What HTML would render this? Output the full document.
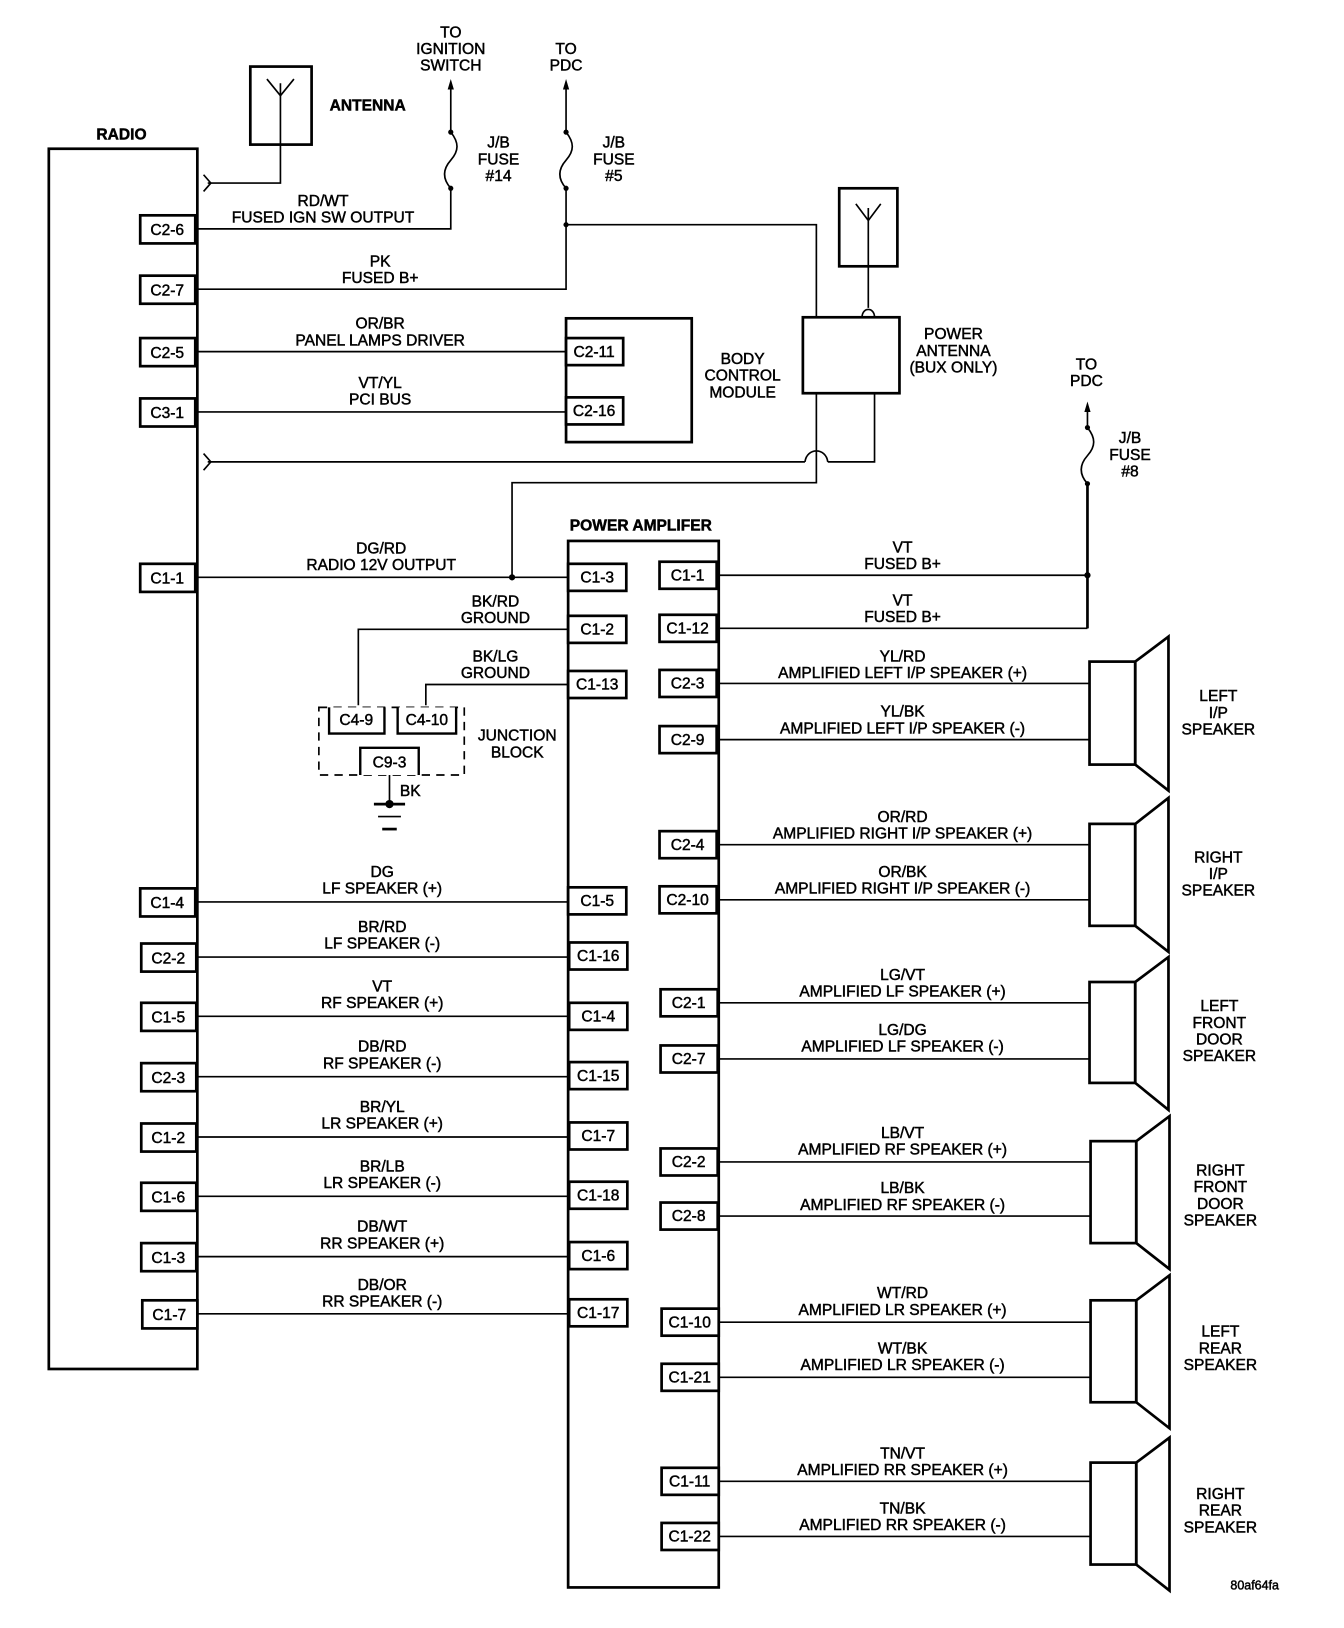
<!DOCTYPE html>
<html><head><meta charset="utf-8"><style>
html,body{margin:0;padding:0;background:#fff;}
svg{display:block;}
text{font-family:"Liberation Sans",Arial,sans-serif;font-size:15px;fill:#000;text-anchor:middle;stroke:#000;stroke-width:0.45;}
.b{font-weight:bold;}
.l{fill:none;stroke:#000;stroke-width:1.6;}
.t{fill:none;stroke:#000;stroke-width:2.6;}
.c{fill:#fff;stroke:#000;stroke-width:2.6;}
</style></head><body>
<svg width="1344" height="1628" viewBox="0 0 1294 1565" preserveAspectRatio="none" xmlns="http://www.w3.org/2000/svg">
<!-- RADIO -->
<text x="117" y="134" class="b">RADIO</text>
<rect x="47" y="143" width="143" height="1173" class="t"/>
<!-- antenna -->
<rect x="241" y="64" width="59" height="75" class="t"/>
<polyline points="257,76 270,92 283,76" class="l"/>
<polyline points="270,80 270,176 200,176" class="l"/>
<polyline points="196,168 203,176 196,184" class="l"/>
<text x="354" y="106" class="b">ANTENNA</text>
<!-- fuse 14 -->
<text x="434" y="36">TO</text><text x="434" y="52">IGNITION</text><text x="434" y="68">SWITCH</text>
<polygon points="434,76 431,86 437,86"/>
<line x1="434" y1="84" x2="434" y2="127" class="l"/>
<path d="M434,127 C442,137 442,145 434,154 C426,163 426,172 434,181" class="l"/>
<circle cx="434" cy="127" r="2.5"/><circle cx="434" cy="181" r="2.5"/>
<polyline points="434,181 434,220 190,220" class="l"/>
<text x="480" y="142">J/B</text><text x="480" y="158">FUSE</text><text x="480" y="174">#14</text>
<text x="311" y="198">RD/WT</text><text x="311" y="214">FUSED IGN SW OUTPUT</text>
<!-- fuse 5 -->
<text x="545" y="52">TO</text><text x="545" y="68">PDC</text>
<polygon points="545,76 542,86 548,86"/>
<line x1="545" y1="84" x2="545" y2="127" class="l"/>
<path d="M545,127 C553,137 553,145 545,154 C537,163 537,172 545,181" class="l"/>
<circle cx="545" cy="127" r="2.5"/><circle cx="545" cy="181" r="2.5"/>
<polyline points="545,181 545,278 190,278" class="l"/>
<circle cx="545" cy="216" r="2.5"/>
<polyline points="545,216 786,216 786,305" class="l"/>
<text x="591" y="142">J/B</text><text x="591" y="158">FUSE</text><text x="591" y="174">#5</text>
<text x="366" y="256">PK</text><text x="366" y="272">FUSED B+</text>
<!-- radio connectors top -->
<g>
<rect x="135" y="207" width="53" height="27" class="c"/><text x="161" y="226">C2-6</text>
<rect x="135" y="265" width="53" height="27" class="c"/><text x="161" y="284">C2-7</text>
<rect x="135" y="325" width="53" height="27" class="c"/><text x="161" y="344">C2-5</text>
<rect x="135" y="383" width="53" height="27" class="c"/><text x="161" y="402">C3-1</text>
<rect x="135" y="542" width="53" height="27" class="c"/><text x="161" y="561">C1-1</text>
</g>
<!-- BCM -->
<rect x="545" y="306" width="121" height="119" class="t"/>
<line x1="190" y1="338" x2="545" y2="338" class="l"/>
<line x1="190" y1="396" x2="545" y2="396" class="l"/>
<rect x="545" y="325" width="55" height="26" class="c"/><text x="572" y="343">C2-11</text>
<rect x="545" y="382" width="55" height="26" class="c"/><text x="572" y="400">C2-16</text>
<text x="366" y="316">OR/BR</text><text x="366" y="332">PANEL LAMPS DRIVER</text>
<text x="366" y="373">VT/YL</text><text x="366" y="389">PCI BUS</text>
<text x="715" y="350">BODY</text><text x="715" y="366">CONTROL</text><text x="715" y="382">MODULE</text>
<!-- power antenna -->
<rect x="808" y="181" width="56" height="75" class="t"/>
<polyline points="824,196 836,212 848,196" class="l"/>
<line x1="836" y1="200" x2="836" y2="296" class="l"/>
<path d="M830,305 C830,295 842,295 842,305" class="l"/>
<rect x="773" y="305" width="93" height="73" class="t"/>
<text x="918" y="326">POWER</text><text x="918" y="342">ANTENNA</text><text x="918" y="358">(BUX ONLY)</text>
<polyline points="842,378 842,444 797,444" class="l"/>
<path d="M797,444 C795,430 777,430 775,444" class="l"/>
<polyline points="775,444 200,444" class="l"/>
<polyline points="196,436 203,444 196,452" class="l"/>
<polyline points="786,378 786,464 493,464 493,555" class="l"/>
<circle cx="493" cy="555" r="3"/>
<line x1="190" y1="555" x2="547" y2="555" class="l"/>
<text x="367" y="532">DG/RD</text><text x="367" y="548">RADIO 12V OUTPUT</text>
<!-- POWER AMP -->
<text x="617" y="510" class="b">POWER AMPLIFER</text>
<rect x="547" y="520" width="145" height="1006" class="t"/>
<!-- ground wires -->
<polyline points="547,605 345,605 345,678" class="l"/>
<polyline points="547,658 410,658 410,678" class="l"/>
<text x="477" y="583">BK/RD</text><text x="477" y="599">GROUND</text>
<text x="477" y="636">BK/LG</text><text x="477" y="652">GROUND</text>
<rect x="307" y="680" width="140" height="65" fill="none" stroke="#000" stroke-width="1.6" stroke-dasharray="8,6"/>
<polyline points="317,680 317,705 370,705 370,680" class="t"/>
<rect x="318" y="680" width="51" height="24" fill="#fff"/><text x="343" y="697">C4-9</text>
<polyline points="383,680 383,705 439,705 439,680" class="t"/>
<rect x="384" y="680" width="54" height="24" fill="#fff"/><text x="411" y="697">C4-10</text>
<polyline points="347,745 347,719 403,719 403,745" class="t"/>
<rect x="348" y="720" width="54" height="25" fill="#fff"/><text x="375" y="738">C9-3</text>
<text x="498" y="712">JUNCTION</text><text x="498" y="728">BLOCK</text>
<line x1="375" y1="745" x2="375" y2="773" class="l"/>
<circle cx="375" cy="773" r="4"/>
<text x="395" y="765">BK</text>
<line x1="360" y1="773" x2="390" y2="773" class="t"/>
<line x1="364" y1="785" x2="386" y2="785" class="l"/>
<line x1="368" y1="797" x2="382" y2="797" class="t"/>
<!-- amp left connectors top -->
<rect x="547" y="542" width="56" height="26" class="c"/><text x="575" y="560">C1-3</text>
<rect x="547" y="592" width="56" height="26" class="c"/><text x="575" y="610">C1-2</text>
<rect x="547" y="645" width="56" height="26" class="c"/><text x="575" y="663">C1-13</text>
<!-- left speaker rows -->
<g>
<line x1="190" y1="867" x2="547" y2="867" class="l"/><rect x="135" y="854" width="53" height="27" class="c"/><text x="161" y="873">C1-4</text><rect x="547" y="853" width="56" height="26" class="c"/><text x="575" y="871">C1-5</text><text x="368" y="843">DG</text><text x="368" y="859">LF SPEAKER (+)</text>
<line x1="190" y1="920" x2="547" y2="920" class="l"/><rect x="136" y="907" width="53" height="27" class="c"/><text x="162" y="926">C2-2</text><rect x="548" y="906" width="56" height="26" class="c"/><text x="576" y="924">C1-16</text><text x="368" y="896">BR/RD</text><text x="368" y="912">LF SPEAKER (-)</text>
<line x1="190" y1="977" x2="547" y2="977" class="l"/><rect x="136" y="964" width="53" height="27" class="c"/><text x="162" y="983">C1-5</text><rect x="548" y="964" width="56" height="26" class="c"/><text x="576" y="982">C1-4</text><text x="368" y="953">VT</text><text x="368" y="969">RF SPEAKER (+)</text>
<line x1="190" y1="1035" x2="547" y2="1035" class="l"/><rect x="136" y="1022" width="53" height="27" class="c"/><text x="162" y="1041">C2-3</text><rect x="548" y="1021" width="56" height="26" class="c"/><text x="576" y="1039">C1-15</text><text x="368" y="1011">DB/RD</text><text x="368" y="1027">RF SPEAKER (-)</text>
<line x1="190" y1="1093" x2="547" y2="1093" class="l"/><rect x="136" y="1080" width="53" height="27" class="c"/><text x="162" y="1099">C1-2</text><rect x="548" y="1079" width="56" height="26" class="c"/><text x="576" y="1097">C1-7</text><text x="368" y="1069">BR/YL</text><text x="368" y="1085">LR SPEAKER (+)</text>
<line x1="190" y1="1150" x2="547" y2="1150" class="l"/><rect x="136" y="1137" width="53" height="27" class="c"/><text x="162" y="1156">C1-6</text><rect x="548" y="1136" width="56" height="26" class="c"/><text x="576" y="1154">C1-18</text><text x="368" y="1126">BR/LB</text><text x="368" y="1142">LR SPEAKER (-)</text>
<line x1="190" y1="1208" x2="547" y2="1208" class="l"/><rect x="136" y="1195" width="53" height="27" class="c"/><text x="162" y="1214">C1-3</text><rect x="548" y="1194" width="56" height="26" class="c"/><text x="576" y="1212">C1-6</text><text x="368" y="1184">DB/WT</text><text x="368" y="1200">RR SPEAKER (+)</text>
<line x1="190" y1="1263" x2="547" y2="1263" class="l"/><rect x="137" y="1250" width="53" height="27" class="c"/><text x="163" y="1269">C1-7</text><rect x="548" y="1249" width="56" height="26" class="c"/><text x="576" y="1267">C1-17</text><text x="368" y="1240">DB/OR</text><text x="368" y="1256">RR SPEAKER (-)</text>
</g>
<!-- right side B+ -->
<text x="1046" y="355">TO</text><text x="1046" y="371">PDC</text>
<polygon points="1047,386 1044,396 1050,396"/>
<line x1="1047" y1="394" x2="1047" y2="411" class="l"/>
<path d="M1047,411 C1055,421 1055,429 1047,438 C1039,447 1039,456 1047,465" class="l"/>
<circle cx="1047" cy="411" r="2.5"/><circle cx="1047" cy="465" r="2.5"/>
<line x1="1047" y1="465" x2="1047" y2="604" class="t"/>
<circle cx="1047" cy="553" r="3"/>
<line x1="690" y1="553" x2="1047" y2="553" class="l"/>
<line x1="690" y1="604" x2="1047" y2="604" class="l"/>
<text x="1088" y="426">J/B</text><text x="1088" y="442">FUSE</text><text x="1088" y="458">#8</text>
<text x="869" y="531">VT</text><text x="869" y="547">FUSED B+</text>
<text x="869" y="582">VT</text><text x="869" y="598">FUSED B+</text>
<rect x="635" y="540" width="55" height="26" class="c"/><text x="662" y="558">C1-1</text>
<rect x="635" y="591" width="55" height="26" class="c"/><text x="662" y="609">C1-12</text>
<!-- right speaker wires -->
<g>
<line x1="690" y1="657" x2="1049" y2="657" class="l"/><rect x="635" y="644" width="55" height="26" class="c"/><text x="662" y="662">C2-3</text><text x="869" y="636">YL/RD</text><text x="869" y="652">AMPLIFIED LEFT I/P SPEAKER (+)</text>
<line x1="690" y1="711" x2="1049" y2="711" class="l"/><rect x="635" y="698" width="55" height="26" class="c"/><text x="662" y="716">C2-9</text><text x="869" y="689">YL/BK</text><text x="869" y="705">AMPLIFIED LEFT I/P SPEAKER (-)</text>
<line x1="690" y1="812" x2="1049" y2="812" class="l"/><rect x="635" y="799" width="55" height="26" class="c"/><text x="662" y="817">C2-4</text><text x="869" y="790">OR/RD</text><text x="869" y="806">AMPLIFIED RIGHT I/P SPEAKER (+)</text>
<line x1="690" y1="865" x2="1049" y2="865" class="l"/><rect x="635" y="852" width="55" height="26" class="c"/><text x="662" y="870">C2-10</text><text x="869" y="843">OR/BK</text><text x="869" y="859">AMPLIFIED RIGHT I/P SPEAKER (-)</text>
<line x1="690" y1="964" x2="1049" y2="964" class="l"/><rect x="636" y="951" width="55" height="26" class="c"/><text x="663" y="969">C2-1</text><text x="869" y="942">LG/VT</text><text x="869" y="958">AMPLIFIED LF SPEAKER (+)</text>
<line x1="690" y1="1018" x2="1049" y2="1018" class="l"/><rect x="636" y="1005" width="55" height="26" class="c"/><text x="663" y="1023">C2-7</text><text x="869" y="995">LG/DG</text><text x="869" y="1011">AMPLIFIED LF SPEAKER (-)</text>
<line x1="690" y1="1117" x2="1049" y2="1117" class="l"/><rect x="636" y="1104" width="55" height="26" class="c"/><text x="663" y="1122">C2-2</text><text x="869" y="1094">LB/VT</text><text x="869" y="1110">AMPLIFIED RF SPEAKER (+)</text>
<line x1="690" y1="1169" x2="1049" y2="1169" class="l"/><rect x="636" y="1156" width="55" height="26" class="c"/><text x="663" y="1174">C2-8</text><text x="869" y="1147">LB/BK</text><text x="869" y="1163">AMPLIFIED RF SPEAKER (-)</text>
<line x1="690" y1="1271" x2="1049" y2="1271" class="l"/><rect x="637" y="1258" width="55" height="26" class="c"/><text x="664" y="1276">C1-10</text><text x="869" y="1248">WT/RD</text><text x="869" y="1264">AMPLIFIED LR SPEAKER (+)</text>
<line x1="690" y1="1324" x2="1049" y2="1324" class="l"/><rect x="637" y="1311" width="55" height="26" class="c"/><text x="664" y="1329">C1-21</text><text x="869" y="1301">WT/BK</text><text x="869" y="1317">AMPLIFIED LR SPEAKER (-)</text>
<line x1="690" y1="1424" x2="1049" y2="1424" class="l"/><rect x="637" y="1411" width="55" height="26" class="c"/><text x="664" y="1429">C1-11</text><text x="869" y="1402">TN/VT</text><text x="869" y="1418">AMPLIFIED RR SPEAKER (+)</text>
<line x1="690" y1="1477" x2="1049" y2="1477" class="l"/><rect x="637" y="1464" width="55" height="26" class="c"/><text x="664" y="1482">C1-22</text><text x="869" y="1455">TN/BK</text><text x="869" y="1471">AMPLIFIED RR SPEAKER (-)</text>
</g>
<!-- speakers -->
<g>
<rect x="1049" y="636" width="44" height="99" class="t"/><polygon points="1093,636 1125,612 1125,760 1093,735" class="t"/>
<text x="1173" y="674">LEFT</text><text x="1173" y="690">I/P</text><text x="1173" y="706">SPEAKER</text>
<rect x="1049" y="792" width="44" height="98" class="t"/><polygon points="1093,792 1125,767 1125,915 1093,890" class="t"/>
<text x="1173" y="829">RIGHT</text><text x="1173" y="845">I/P</text><text x="1173" y="861">SPEAKER</text>
<rect x="1049" y="944" width="44" height="97" class="t"/><polygon points="1093,944 1125,920 1125,1067 1093,1041" class="t"/>
<text x="1174" y="972">LEFT</text><text x="1174" y="988">FRONT</text><text x="1174" y="1004">DOOR</text><text x="1174" y="1020">SPEAKER</text>
<rect x="1050" y="1097" width="44" height="98" class="t"/><polygon points="1094,1097 1126,1073 1126,1220 1094,1195" class="t"/>
<text x="1175" y="1130">RIGHT</text><text x="1175" y="1146">FRONT</text><text x="1175" y="1162">DOOR</text><text x="1175" y="1178">SPEAKER</text>
<rect x="1050" y="1250" width="44" height="98" class="t"/><polygon points="1094,1250 1126,1226 1126,1373 1094,1348" class="t"/>
<text x="1175" y="1285">LEFT</text><text x="1175" y="1301">REAR</text><text x="1175" y="1317">SPEAKER</text>
<rect x="1050" y="1406" width="44" height="98" class="t"/><polygon points="1094,1406 1126,1382 1126,1529 1094,1504" class="t"/>
<text x="1175" y="1441">RIGHT</text><text x="1175" y="1457">REAR</text><text x="1175" y="1473">SPEAKER</text>
</g>
<text x="1208" y="1528" style="font-size:12px">80af64fa</text>
</svg>
</body></html>
